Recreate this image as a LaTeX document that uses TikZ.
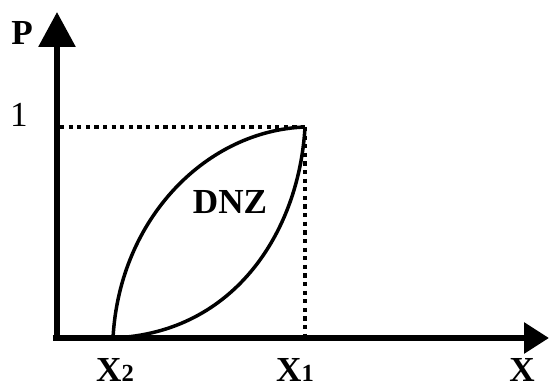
\documentclass[tikz,border=0pt]{standalone}
\usepackage{fontspec}
\setmainfont{Liberation Serif}
\usetikzlibrary{arrows.meta}
\tikzset{
  axis/.style={line width=0.12cm},
  guide/.style={line width=0.09cm, dash pattern=on 2.4pt off 2.5pt},
  zone/.style={line width=0.07cm},
  lbl/.style={font=\fontsize{20}{20}\selectfont\bfseries},
}
\newcommand{\idx}[1]{{\fontsize{14}{14}\selectfont #1}}
\begin{document}
\begin{tikzpicture}
    \useasboundingbox (-1.14,-0.98) rectangle (9.86,6.76);
    %assi
    \coordinate (O) at (0,0);
    \draw[axis, -{Triangle[length=0.7cm, width=0.72cm]}] (0,-0.06) -- (0,6.52) coordinate (Ptip);
    \draw[axis, -{Triangle[length=0.5cm, width=0.6cm]}] (-0.08,0) -- (9.84,0) coordinate (Xtip);
    %tratteggi
    \coordinate (top) at (4.96,4.22);
    \draw[guide] (0.06,4.22) -- (top);
    \draw[guide] (top) -- (4.96,0.06);
    %zona DNZ
    \coordinate (start) at (1.12,0);
    \draw[zone] (start) .. controls (1.25,2.4) and (3.0,4.15) .. (top);
    \draw[zone] (start) .. controls (3.6,0.1) and (4.85,2.2) .. (top);
    %etichette
    \node[lbl] (labP) at (-0.7,6.1) {P};
    \node[font=\fontsize{20}{20}\selectfont, anchor=base] (lab1) at (-0.76,4.22) {1};
    \node[lbl, anchor=base, inner sep=1pt] (labX2) at (1.16,-0.88) {X\idx{2}};
    \node[lbl, anchor=base, inner sep=1pt] (labX1) at (4.76,-0.88) {X\idx{1}};
    \node[lbl, anchor=base, inner sep=1pt] (labX) at (9.3,-0.88) {X};
    \node[lbl] (labDNZ) at (3.46,2.72) {DNZ};
\end{tikzpicture}
\end{document}
